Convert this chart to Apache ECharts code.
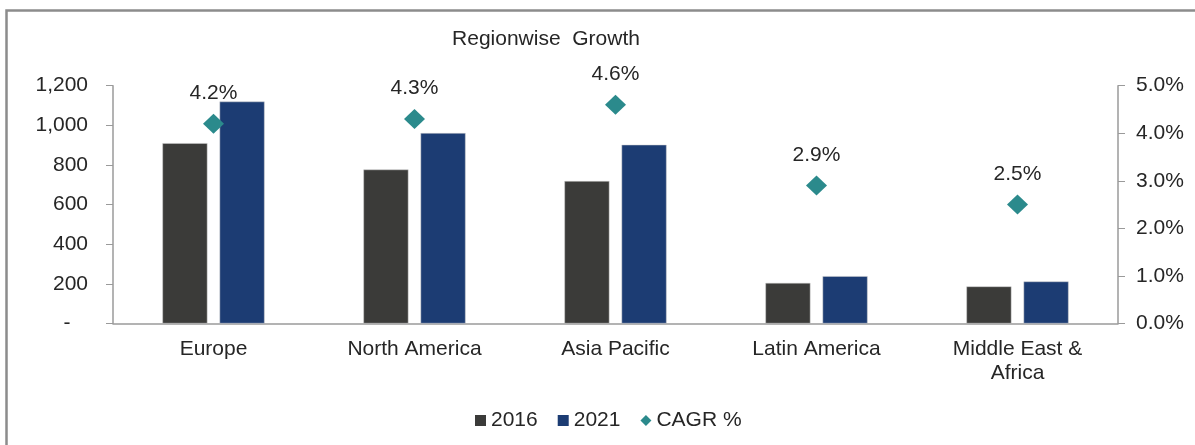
<!DOCTYPE html>
<html>
<head>
<meta charset="utf-8">
<script src="https://cdn.jsdelivr.net/npm/echarts@6/dist/echarts.min.js"></script>
<style>
html,body{margin:0;padding:0;background:#fff;}
#chart{width:1195px;height:445px;}
</style>
</head>
<body>
<div id="chart"></div>
<script>
const categories = ['Europe', 'North America', 'Asia Pacific', 'Latin America', 'Middle East &\nAfrica'];
const values2016 = [910, 777, 719, 205, 187];
const values2021 = [1120, 961, 902, 239, 212];
const cagrPct = [4.2, 4.3, 4.6, 2.9, 2.5];
const leftTicks = { min: 0, max: 1200, interval: 200 };
const rightTicks = { min: 0, max: 5, interval: 1 };

const FONT = '"Liberation Sans", Arial, sans-serif';
const TXT = '#262626';
const AX = '#9a9a9a';

const chart = echarts.init(document.getElementById('chart'));
chart.setOption({
  animation: false,
  backgroundColor: '#fff',
  textStyle: { fontFamily: FONT, color: TXT },
  graphic: [{
    type: 'rect',
    shape: { x: 6.5, y: 10.5, width: 1300, height: 600 },
    style: { fill: 'none', stroke: '#8c8c8c', lineWidth: 2.5 },
    silent: true
  }],
  title: {
    text: 'Regionwise  Growth',
    left: 541, top: 24, textAlign: 'center',
    textStyle: { fontFamily: FONT, fontSize: 21, fontWeight: 'normal', color: TXT }
  },
  legend: {
    left: 470, top: 405,
    itemWidth: 11, itemHeight: 11, itemGap: 20,
    itemStyle: { borderWidth: 0 },
    textStyle: { fontFamily: FONT, fontSize: 21, color: TXT },
    data: [
      { name: '2016', icon: 'rect' },
      { name: '2021', icon: 'rect' },
      { name: 'CAGR %', icon: 'path://M0,6L6,0L12,6L6,12Z' }
    ]
  },
  grid: { left: 113, right: 77, top: 85.7, bottom: 121.5, containLabel: false },
  xAxis: {
    type: 'category',
    data: categories,
    axisLine: { lineStyle: { color: AX, width: 1.5 } },
    axisTick: { show: false },
    axisLabel: { fontFamily: FONT, fontSize: 21, color: TXT, margin: 14, lineHeight: 24, interval: 0 }
  },
  yAxis: [{
    type: 'value',
    min: leftTicks.min, max: leftTicks.max, interval: leftTicks.interval,
    axisLine: { show: true, lineStyle: { color: AX, width: 1.5 } },
    axisTick: { show: true, inside: false, length: 7, lineStyle: { color: AX } },
    splitLine: { show: false },
    axisLabel: {
      fontFamily: FONT, fontSize: 21, color: TXT, margin: 25,
      formatter: v => v === 0 ? '-   ' : v.toLocaleString('en-US')
    }
  }, {
    type: 'value',
    position: 'right',
    min: rightTicks.min, max: rightTicks.max, interval: rightTicks.interval,
    axisLine: { show: true, lineStyle: { color: AX, width: 1.5 } },
    axisTick: { show: true, inside: false, length: 7, lineStyle: { color: AX } },
    splitLine: { show: false },
    axisLabel: {
      fontFamily: FONT, fontSize: 21, color: TXT, margin: 18,
      formatter: v => v.toFixed(1) + '%'
    }
  }],
  series: [{
    name: '2016', type: 'bar', yAxisIndex: 0,
    data: values2016, barWidth: 45, barGap: '27%',
    itemStyle: { color: '#3b3b39', borderColor: '#d0d0d0', borderWidth: 0.5 }
  }, {
    name: '2021', type: 'bar', yAxisIndex: 0,
    data: values2021, barWidth: 45, barGap: '27%',
    itemStyle: { color: '#1c3c73', borderColor: '#d0d0d0', borderWidth: 0.5 }
  }, {
    name: 'CAGR %', type: 'scatter', yAxisIndex: 1,
    data: cagrPct,
    symbol: 'diamond', symbolSize: [21, 20],
    itemStyle: { color: '#2b8a8c', opacity: 1 },
    label: {
      show: true, position: 'top', distance: 10,
      fontFamily: FONT, fontSize: 21, color: TXT, opacity: 1,
      formatter: p => p.value.toFixed(1) + '%'
    },
    z: 5
  }]
});
</script>
</body>
</html>
